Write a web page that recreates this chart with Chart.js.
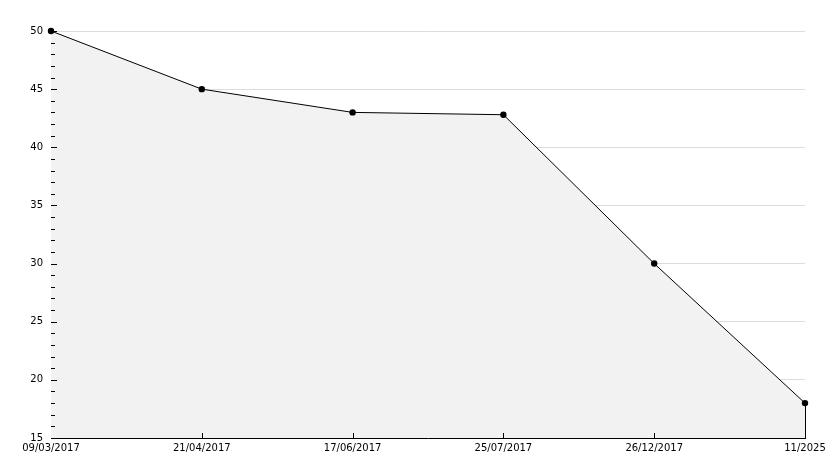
<!DOCTYPE html>
<html><head><meta charset="utf-8">
<script src="https://cdn.jsdelivr.net/npm/chart.js@4.4.1/dist/chart.umd.min.js"></script>
<style>html,body{margin:0;padding:0;background:#fff}#wrap{width:834px;height:468px}</style>
</head><body><div id="wrap"><canvas id="c" width="834" height="468"></canvas></div>
<script>
const categories = ["09/03/2017","21/04/2017","17/06/2017","25/07/2017","26/12/2017","11/2025"];
const values = [50, 45, 43, 42.8, 30, 18];
const yMin = 15, yMax = 50, yMajorStep = 5, yMinorStep = 1;

const ticksPlugin = {
  id: 'customTicks',
  afterDatasetsDraw(chart) {
    const ctx = chart.ctx, y = chart.scales.y, x = chart.scales.x, area = chart.chartArea;
    const ax = Math.round(area.left);
    ctx.save();
    ctx.strokeStyle = '#000'; ctx.lineWidth = 1;
    ctx.beginPath();
    for (let v = yMin; v <= yMax; v += yMinorStep) {
      const py = Math.round(y.getPixelForValue(v)) + 0.5;
      const len = (v % yMajorStep === 0) ? 5 : 3;
      ctx.moveTo(ax, py); ctx.lineTo(ax + len + 1, py);
    }
    for (let i = 1; i < categories.length - 1; i++) {
      const px = Math.round(x.getPixelForValue(i)) + 0.5;
      ctx.moveTo(px, area.bottom); ctx.lineTo(px, area.bottom - 5);
    }
    const meta = chart.getDatasetMeta(0);
    const last = meta.data[meta.data.length - 1];
    const lx = Math.round(last.x) + 0.5;
    ctx.moveTo(lx, last.y); ctx.lineTo(lx, area.bottom);
    ctx.stroke();
    ctx.restore();
  }
};

new Chart(document.getElementById('c'), {
  type: 'line',
  data: {
    labels: categories,
    datasets: [{
      data: values,
      borderColor: '#000', borderWidth: 1,
      backgroundColor: '#f2f2f2', fill: 'origin',
      tension: 0, clip: false,
      pointRadius: 3.2, pointBackgroundColor: '#000', pointBorderColor: '#000', pointBorderWidth: 0,
      pointStyle: 'circle'
    }]
  },
  options: {
    responsive: false, animation: false,
    layout: { padding: { top: 31, right: 29, left: 0, bottom: 0 } },
    plugins: { legend: { display: false }, tooltip: { enabled: false } },
    scales: {
      x: {
        type: 'category', offset: false,
        grid: { display: false, drawTicks: false },
        border: { display: true, color: '#000', width: 1 },
        ticks: { color: '#000', font: { family: 'DejaVu Sans', size: 10 }, padding: 4, maxRotation: 0, autoSkip: false },
        afterFit(s) { s.height = 30; }
      },
      y: {
        min: yMin, max: yMax,
        grid: { color: '#dcdcdc', drawTicks: false, lineWidth: 1 },
        border: { display: true, color: '#000', width: 1 },
        ticks: { stepSize: yMajorStep, color: '#000', font: { family: 'DejaVu Sans', size: 10 }, padding: 8 },
        afterFit(s) { s.width = 51; }
      }
    }
  },
  plugins: [ticksPlugin]
});
</script></body></html>
